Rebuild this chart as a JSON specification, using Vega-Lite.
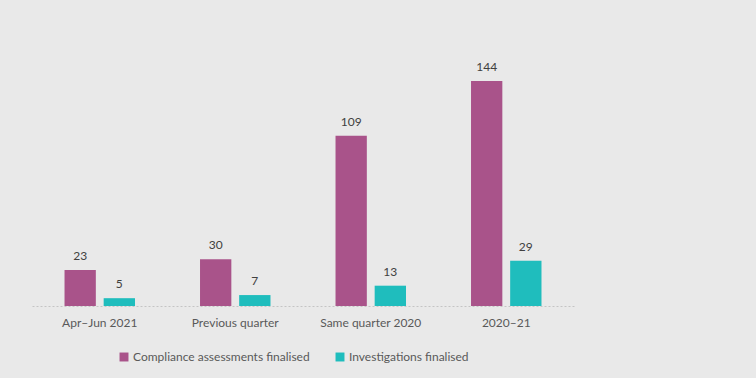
{
  "$schema": "https://vega.github.io/schema/vega-lite/v6.json",
  "width": 542,
  "height": 250,
  "autosize": {"type": "none"},
  "padding": {"left": 32, "top": 56, "right": 182, "bottom": 72},
  "background": "#e9e9e9",
  "config": {"view": {"stroke": null}, "font": "Lato"},
  "data": {
    "values": [
      {"period": "Apr–Jun 2021", "series": "Compliance assessments finalised", "value": 23},
      {"period": "Apr–Jun 2021", "series": "Investigations finalised", "value": 5},
      {"period": "Previous quarter", "series": "Compliance assessments finalised", "value": 30},
      {"period": "Previous quarter", "series": "Investigations finalised", "value": 7},
      {"period": "Same quarter 2020", "series": "Compliance assessments finalised", "value": 109},
      {"period": "Same quarter 2020", "series": "Investigations finalised", "value": 13},
      {"period": "2020–21", "series": "Compliance assessments finalised", "value": 144},
      {"period": "2020–21", "series": "Investigations finalised", "value": 29}
    ]
  },
  "encoding": {
    "x": {
      "field": "period", "type": "nominal", "sort": null,
      "scale": {"paddingInner": 0.48, "paddingOuter": 0.24},
      "axis": {"title": null, "labelAngle": 0, "ticks": false, "domainColor": "#c4c4c4", "domainDash": [2, 2], "labelColor": "#595959", "labelFontSize": 12, "labelPadding": 11}
    },
    "xOffset": {"field": "series", "type": "nominal", "scale": {"paddingInner": 0.2}},
    "y": {"field": "value", "type": "quantitative", "scale": {"domain": [0, 160]}, "axis": null}
  },
  "layer": [
    {
      "mark": {"type": "bar"},
      "encoding": {
        "color": {
          "field": "series", "type": "nominal",
          "scale": {"range": ["#a9538a", "#1fbdbd"]},
          "legend": {"title": null, "orient": "none", "direction": "horizontal", "legendX": 86, "legendY": 295, "symbolType": "square", "symbolSize": 80, "symbolStrokeWidth": 0, "labelFontSize": 12, "labelColor": "#595959", "labelLimit": 400, "columnPadding": 24, "labelOffset": 3}
        }
      }
    },
    {
      "mark": {"type": "text", "baseline": "bottom", "dy": -7, "fontSize": 12, "color": "#404040"},
      "encoding": {"text": {"field": "value", "type": "quantitative"}}
    }
  ]
}
